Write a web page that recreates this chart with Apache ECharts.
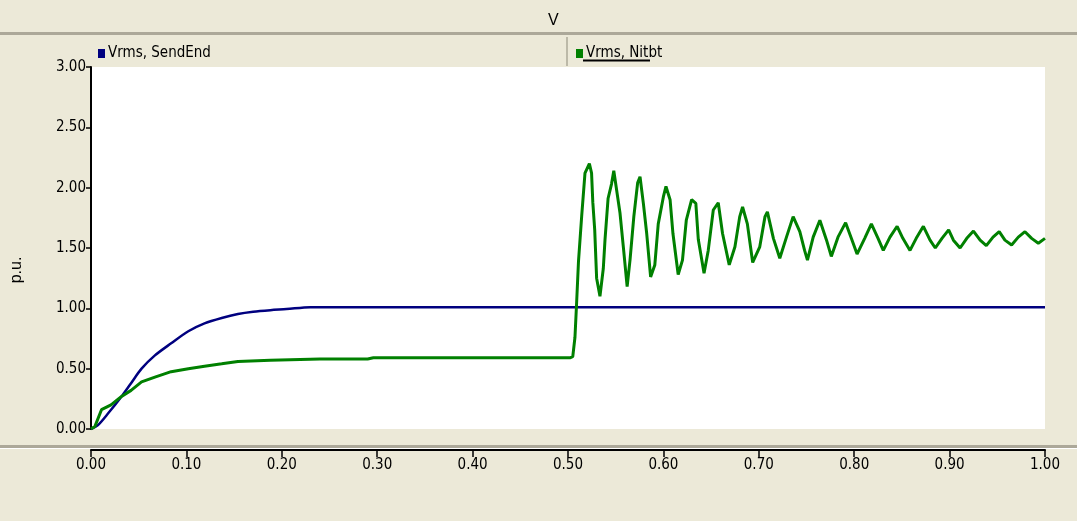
<!DOCTYPE html>
<html>
<head>
<meta charset="utf-8">
<script src="https://cdn.jsdelivr.net/npm/echarts@6/dist/echarts.min.js"></script>
<style>
html,body{margin:0;padding:0;background:#ECE9D8;}
#main{width:1077px;height:521px;}
</style>
</head>
<body>
<div id="main"></div>
<script>
// ---- data ----
var sendEndName = 'Vrms, SendEnd';
var otherName = 'Vrms, Nitbt';
var sendT = [0, 0.007, 0.018, 0.032, 0.042, 0.053, 0.067, 0.084, 0.102, 0.119, 0.137, 0.154, 0.170, 0.188, 0.205, 0.23, 0.30, 0.50, 0.60, 0.80, 1.0];
var sendV = [0, 0.03, 0.13, 0.27, 0.38, 0.50, 0.61, 0.71, 0.81, 0.875, 0.92, 0.953, 0.972, 0.985, 0.994, 1.01, 1.01, 1.01, 1.01, 1.01, 1.01];

var otherT = [0, 0.004, 0.011, 0.021, 0.032, 0.042, 0.053, 0.067, 0.084, 0.102, 0.119, 0.137, 0.154, 0.188, 0.24, 0.29, 0.296, 0.40, 0.502, 0.505,
  0.5073, 0.509, 0.511, 0.5144, 0.5178, 0.5224, 0.5247, 0.526, 0.528, 0.530, 0.5335, 0.537, 0.5388, 0.542, 0.5456, 0.548,
  0.5545, 0.558, 0.562, 0.565, 0.569, 0.573, 0.5755, 0.579, 0.5825, 0.5866, 0.591, 0.5946, 0.600, 0.6027, 0.607, 0.610,
  0.6155, 0.620, 0.624, 0.6296, 0.634, 0.6366, 0.6426, 0.647, 0.6523, 0.6575, 0.662, 0.669, 0.675, 0.680, 0.683, 0.688,
  0.6936, 0.701, 0.7065, 0.709, 0.7153, 0.722, 0.729, 0.736, 0.743, 0.748, 0.751, 0.757, 0.764, 0.771, 0.776, 0.783,
  0.791, 0.797, 0.803, 0.811, 0.818, 0.825, 0.8305, 0.8375, 0.845, 0.851, 0.8585, 0.865, 0.8725, 0.8795, 0.885, 0.892,
  0.899, 0.904, 0.911, 0.918, 0.925, 0.932, 0.9385, 0.9455, 0.952, 0.958, 0.965, 0.972, 0.979, 0.986, 0.993, 1.0];
var otherV = [0, 0.02, 0.16, 0.20, 0.27, 0.32, 0.39, 0.43, 0.475, 0.50, 0.52, 0.54, 0.56, 0.57, 0.58, 0.58, 0.59, 0.59, 0.59, 0.60,
  0.76, 1.04, 1.39, 1.77, 2.12, 2.20, 2.12, 1.88, 1.65, 1.25, 1.10, 1.33, 1.57, 1.91, 2.03, 2.14,
  1.79, 1.51, 1.18, 1.40, 1.76, 2.04, 2.09, 1.87, 1.62, 1.26, 1.36, 1.70, 1.925, 2.01, 1.90, 1.62,
  1.28, 1.40, 1.73, 1.90, 1.87, 1.57, 1.29, 1.48, 1.815, 1.875, 1.62, 1.36, 1.51, 1.76, 1.84, 1.70,
  1.38, 1.51, 1.76, 1.80, 1.58, 1.415, 1.59, 1.76, 1.635, 1.48, 1.40, 1.59, 1.73, 1.565, 1.43, 1.59,
  1.71, 1.58, 1.45, 1.58, 1.70, 1.58, 1.48, 1.59, 1.68, 1.58, 1.48, 1.58, 1.68, 1.565, 1.50, 1.58,
  1.65, 1.565, 1.50, 1.58, 1.64, 1.565, 1.52, 1.59, 1.635, 1.565, 1.525, 1.59, 1.635, 1.58, 1.54, 1.58];

var xTicks = {min: 0, max: 1, interval: 0.1};
var yTicks = {min: 0, max: 3, interval: 0.5};
var titleText = 'V';
var yUnit = 'p.u.';

function pairs(t, v) { return t.map(function (x, i) { return [x, v[i]]; }); }

var FONT = "'Liberation Sans Narrow','DejaVu Sans Condensed','Liberation Sans',sans-serif";
var chart = echarts.init(document.getElementById('main'), null, {renderer: 'canvas'});
chart.setOption({
  backgroundColor: '#ECE9D8',
  animation: false,
  title: {text: titleText, left: 543, top: 8, textStyle: {fontFamily: 'Liberation Sans', fontSize: 16, fontWeight: 'normal', color: '#000'}},
  legend: [
    {data: [sendEndName], left: 93, top: 41, icon: 'rect', itemWidth: 7, itemHeight: 9, itemGap: 4,
     textStyle: {fontFamily: FONT, fontSize: 15, color: '#000', padding: [0, 0, 0, -2]}},
    {data: [otherName], left: 571, top: 41, icon: 'rect', itemWidth: 7, itemHeight: 9, itemGap: 4,
     textStyle: {fontFamily: FONT, fontSize: 15, color: '#000', padding: [0, 0, 0, -2]}}
  ],
  graphic: [
    {type: 'rect', left: 0, top: 32, shape: {width: 1077, height: 3}, style: {fill: '#ACA899'}, silent: true},
    {type: 'rect', left: 0, top: 445, shape: {width: 1077, height: 3}, style: {fill: '#ACA899'}, silent: true},
    {type: 'rect', left: 0, top: 448, shape: {width: 1077, height: 1}, style: {fill: '#FFFFFF'}, silent: true},
    {type: 'line', shape: {x1: 567, y1: 37, x2: 567, y2: 66}, style: {stroke: '#ACA899', lineWidth: 1.5}, silent: true},
    {type: 'line', shape: {x1: 583, y1: 60.5, x2: 650, y2: 60.5}, style: {stroke: '#000', lineWidth: 2}, silent: true},
    {type: 'text', x: 9, y: 270, rotation: Math.PI / 2, style: {text: yUnit, font: "16px 'Liberation Sans'", fill: '#000', textAlign: 'center', textVerticalAlign: 'top'}, silent: true}
  ],
  grid: {left: 91, right: 32, top: 67, bottom: 92, show: true, backgroundColor: '#FFFFFF', borderWidth: 0},
  xAxis: {
    type: 'value', min: xTicks.min, max: xTicks.max, interval: xTicks.interval, offset: 21,
    axisLine: {show: true, onZero: false, lineStyle: {color: '#000', width: 2}},
    axisTick: {show: true, length: 7, lineStyle: {color: '#000', width: 1.5}},
    axisLabel: {show: true, margin: 8, color: '#000', fontFamily: FONT, fontSize: 15, formatter: function (v) { return v.toFixed(2); }, showMaxLabel: true, showMinLabel: true},
    splitLine: {show: false}
  },
  yAxis: {
    type: 'value', min: yTicks.min, max: yTicks.max, interval: yTicks.interval,
    axisLine: {show: true, onZero: false, lineStyle: {color: '#000', width: 2}},
    axisTick: {show: true, length: 5, lineStyle: {color: '#000', width: 1.5}},
    axisLabel: {show: true, margin: 5, color: '#000', fontFamily: FONT, fontSize: 15, formatter: function (v) { return v.toFixed(2); }},
    splitLine: {show: false}
  },
  series: [
    {name: sendEndName, type: 'line', data: pairs(sendT, sendV), showSymbol: false, symbol: 'none', smooth: 0.3,
     color: '#00007F', lineStyle: {color: '#00007F', width: 2.5}, z: 2},
    {name: otherName, type: 'line', data: pairs(otherT, otherV), showSymbol: false, symbol: 'none',
     color: '#008000', lineStyle: {color: '#008000', width: 3}, z: 3}
  ]
});
</script>
</body>
</html>
